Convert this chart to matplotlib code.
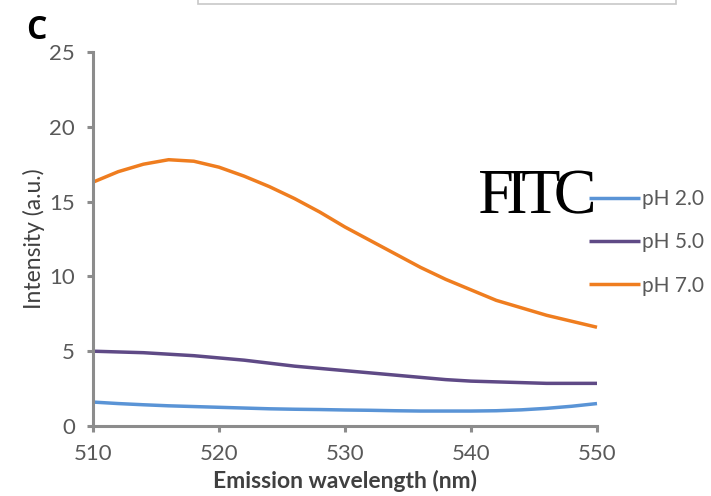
import matplotlib
matplotlib.use("Agg")
import matplotlib.pyplot as plt
from matplotlib.textpath import TextPath
from matplotlib.patches import PathPatch, Rectangle
from matplotlib.font_manager import FontProperties
from matplotlib.transforms import Affine2D, IdentityTransform

# Emission spectra (a.u.) at three pH values
wavelength = [510, 512, 514, 516, 518, 520, 522, 524, 526, 528, 530,
              532, 534, 536, 538, 540, 542, 544, 546, 548, 550]
ph2 = [1.60, 1.50, 1.42, 1.35, 1.30, 1.25, 1.20, 1.15, 1.12, 1.10, 1.07,
       1.05, 1.02, 1.00, 1.00, 1.00, 1.02, 1.08, 1.18, 1.32, 1.50]
ph5 = [5.00, 4.95, 4.90, 4.80, 4.70, 4.55, 4.40, 4.20, 4.00, 3.85, 3.70,
       3.55, 3.40, 3.25, 3.10, 3.00, 2.95, 2.90, 2.85, 2.85, 2.85]
ph7 = [16.3, 17.0, 17.5, 17.8, 17.7, 17.3, 16.7, 16.0, 15.2, 14.3, 13.3,
       12.4, 11.5, 10.6, 9.8, 9.1, 8.4, 7.9, 7.4, 7.0, 6.6]
series_labels = ["pH 2.0", "pH 5.0", "pH 7.0"]
series_colors = ["#5A94D6", "#5F4A86", "#EF7D1F"]
x_ticks = [510, 520, 530, 540, 550]
y_ticks = [0, 5, 10, 15, 20, 25]

plt.rcParams["font.family"] = ["Lato", "DejaVu Sans"]
axis_grey = "#8C8C8C"
text_grey = "#595959"
W, H = 711, 496

fig = plt.figure(figsize=(W / 100, H / 100), dpi=100)
ax = fig.add_axes([93 / W, 1 - 426 / H, (597 - 93) / W, (426 - 52) / H])

for ys, lab, col in zip([ph2, ph5, ph7], series_labels, series_colors):
    ax.plot(wavelength, ys, color=col, lw=2.5, label=lab, clip_on=False,
            solid_capstyle="butt")

ax.set_xlim(510, 550)
ax.set_ylim(0, 25)
ax.set_xticks(x_ticks)
ax.set_yticks(y_ticks)
for s in ["top", "right"]:
    ax.spines[s].set_visible(False)
for s in ["left", "bottom"]:
    ax.spines[s].set_color(axis_grey)
    ax.spines[s].set_linewidth(2.2)
ax.tick_params(direction="out", length=4, width=2.2, color=axis_grey,
               labelcolor=text_grey, labelsize=16)
ax.tick_params(axis="x", pad=9)
ax.tick_params(axis="y", pad=9)

ax.set_xlabel("Emission wavelength (nm)", fontsize=16.5, fontweight="bold",
              color="#404040", labelpad=4)
ax.set_ylabel("Intensity (a.u.)", fontsize=16.5, color="#404040", labelpad=3)

leg = ax.legend(loc="upper left", bbox_to_anchor=(589 / W, 1 - 189 / H),
                bbox_transform=fig.transFigure, frameon=False, fontsize=15,
                handlelength=2.45, handletextpad=0.1, labelspacing=1.12,
                borderaxespad=0, borderpad=0)
for t in leg.get_texts():
    t.set_color(text_grey)

# panel letter
fig.text(26 / W, 1 - 39 / H, "C", fontsize=23, fontweight="bold",
         color="black", family=["Open Sans", "DejaVu Sans"])

# tightly set serif "FITC" label, glyphs placed one by one in pixel space
serif = FontProperties(family="Liberation Serif")
cap_px = 42
ref_size = 60
scale = cap_px / TextPath((0, 0), "F", size=ref_size, prop=serif).get_extents().height
glyphs = [TextPath((0, 0), ch, size=ref_size * scale, prop=serif) for ch in "FITC"]
widths = [g.get_extents().width for g in glyphs]
overlap = (sum(widths) - (593 - 480)) / (len(glyphs) - 1)
x = 480
for g, w in zip(glyphs, widths):
    bb = g.get_extents()
    tr = Affine2D().translate(x - bb.x0, H - 213)
    fig.patches.append(PathPatch(tr.transform_path(g), facecolor="black",
                                 edgecolor="none", transform=IdentityTransform(),
                                 figure=fig))
    x += w - overlap

# thin frame edge at the top of the figure
fig.patches.append(Rectangle((198 / W, 1 - 3.5 / H), (676 - 198) / W, 0.05,
                             transform=fig.transFigure, facecolor="white",
                             edgecolor="#C8C8C8", lw=1.2, figure=fig))

fig.savefig("out.png", dpi=100)
